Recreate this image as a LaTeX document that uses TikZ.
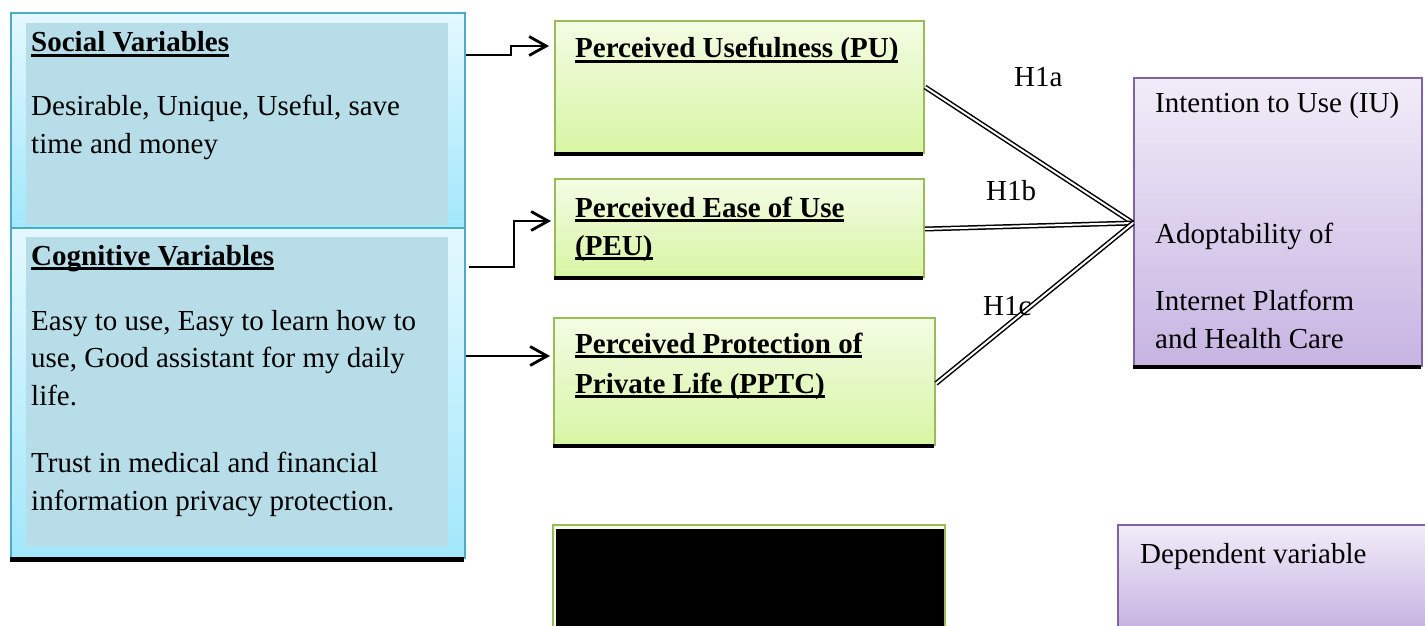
\documentclass[tikz,border=0pt]{standalone}
\usepackage{fontspec}
\setmainfont{Liberation Serif}
\usetikzlibrary{arrows.meta,calc,shadings}
\definecolor{bluebd}{HTML}{4AACC6}
\definecolor{bluetop}{HTML}{E4F8FE}
\definecolor{bluebot}{HTML}{A2E7FB}
\definecolor{bluein}{HTML}{B7DDE8}
\definecolor{greenbd}{HTML}{9BBB59}
\definecolor{greentop}{HTML}{F3FCE4}
\definecolor{greenbot}{HTML}{D8F5A4}
\definecolor{purpbd}{HTML}{8064A2}
\definecolor{purptop}{HTML}{F1ECF8}
\definecolor{purpbot}{HTML}{C7B4E2}
\newcommand\ulbf[1]{\setbox0\hbox{\bfseries #1}\rlap{\rule[-5pt]{\wd0}{2.6pt}}\box0}
\begin{document}
\begin{tikzpicture}[x=1pt,y=-1pt,
  bluebox/.style={draw=bluebd, line width=2pt, top color=bluetop, bottom color=bluebot, inner sep=0pt, anchor=north west},
  blueinner/.style={fill=bluein, draw=none, inner sep=0pt, anchor=north west},
  greenbox/.style={draw=greenbd, line width=2pt, top color=greentop, bottom color=greenbot, inner sep=0pt, anchor=north west},
  purplebox/.style={draw=purpbd, line width=2pt, top color=purptop, bottom color=purpbot, inner sep=0pt, anchor=north west},
  txt/.style={anchor=base west, inner sep=0pt, font=\fontsize{29}{37.5}\selectfont},
  arr/.style={line width=2.8pt, -{Straight Barb[length=17pt,width=19pt]}},
  dbl/.style={double, double distance=2pt, line width=1.5pt},
  shadowbar/.style={fill=black}
]
\useasboundingbox (0,0) rectangle (1425,626);

% left blue boxes
\node[bluebox, minimum width=454pt, minimum height=215pt] (social) at (10,12) {};
\node[blueinner, minimum width=422pt, minimum height=202pt] (socialin) at (26,23) {};
\node[bluebox, minimum width=454pt, minimum height=330pt] (cog) at (10,227) {};
\node[blueinner, minimum width=422pt, minimum height=310pt] (cogin) at (26,237) {};
\fill[shadowbar] (10,557) rectangle (464,562);

\node[txt] (t1) at (31,52) {\ulbf{Social Variables}};
\node[txt] (t2) at (31,115) {Desirable, Unique, Useful, save};
\node[txt] (t3) at (31,153) {time and money};
\node[txt] (t4) at (31,265) {\ulbf{Cognitive Variables}};
\node[txt] (t5) at (31,330) {Easy to use, Easy to learn how to};
\node[txt] (t6) at (31,367) {use, Good assistant for my daily};
\node[txt] (t7) at (31,405) {life.};
\node[txt] (t8) at (31,472) {Trust in medical and financial};
\node[txt] (t9) at (31,510) {information privacy protection.};

% green boxes
\node[greenbox, minimum width=369pt, minimum height=132pt] (pu) at (554,20) {};
\fill[shadowbar] (554,152) rectangle (923,156);
\node[greenbox, minimum width=369pt, minimum height=98pt] (peu) at (554,178) {};
\fill[shadowbar] (554,276) rectangle (923,280);
\node[greenbox, minimum width=381pt, minimum height=127pt] (pptc) at (553,317) {};
\fill[shadowbar] (553,444) rectangle (934,448);

\node[txt] (p1) at (575,58) {\ulbf{Perceived Usefulness (PU)}};
\node[txt] (p2) at (575,217) {\ulbf{Perceived Ease of Use}};
\node[txt] (p3) at (575,255) {\ulbf{(PEU)}};
\node[txt] (p4) at (575,353) {\ulbf{Perceived Protection of}};
\node[txt] (p5) at (575,393) {\ulbf{Private Life (PPTC)}};

% black box
\draw[greenbd, line width=2pt, fill=greentop] (553,627) |- (945,525) -- (945,627);
\fill[black] (556,529) rectangle (944,627);

% purple boxes
\node[purplebox, minimum width=288pt, minimum height=288pt] (iu) at (1133,77) {};
\fill[shadowbar] (1133,365) rectangle (1421,369);
\node[txt] (i1) at (1155,113) {Intention to Use (IU)};
\node[txt] (i2) at (1155,243) {Adoptability of};
\node[txt] (i3) at (1155,310) {Internet Platform};
\node[txt] (i4) at (1155,348) {and Health Care};

\shade[top color=purptop, bottom color=purpbot] (1118,525) rectangle (1426,627);
\draw[purpbd, line width=2pt] (1118,627) |- (1426,525);
\node[txt] (d1) at (1140,563) {Dependent variable};

% arrows
\draw[arr] ([yshift=-43pt]social.north east) -- ++(45,0) |- ([yshift=-26pt,xshift=-5pt]pu.north west);
\draw[arr] ([yshift=-40pt,xshift=3pt]cog.north east) -- ++(45,0) |- ([yshift=-43pt,xshift=-3pt]peu.north west);
\draw[arr] ([yshift=-129pt]cog.north east) -- ([yshift=-39pt,xshift=-3pt]pptc.north west);

% hypotheses
\coordinate (conv) at (1133,223);
\draw[dbl] (pu.east) -- (conv);
\draw[dbl] ([yshift=-1pt]peu.east) -- (conv);
\draw[dbl] ([yshift=-2pt]pptc.east) -- (conv);
\node[txt] (h1) at (1014,87) {H1a};
\node[txt] (h2) at (986,200) {H1b};
\node[txt] (h3) at (983,315) {H1c};
\end{tikzpicture}
\end{document}
